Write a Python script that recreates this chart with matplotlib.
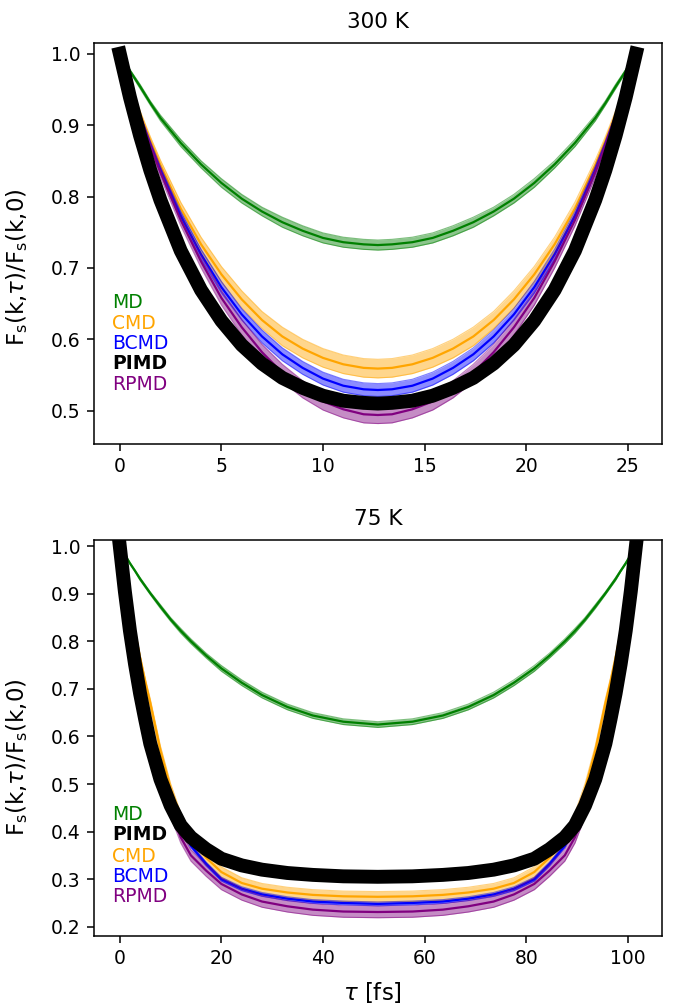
import matplotlib
matplotlib.use('Agg')
import matplotlib.pyplot as plt
import numpy as np

# ---- 300 K ----
tau_300 = [0, 0.5, 1, 1.5, 2, 3, 4, 5, 6, 7, 8, 9, 10, 11, 12, 12.7,
           13.4, 14.4, 15.4, 16.4, 17.4, 18.4, 19.4, 20.4, 21.4, 22.4, 23.4, 23.9, 24.4, 24.9, 25.4]

md_300 = [1.000, 0.976, 0.954, 0.931, 0.910, 0.875, 0.845, 0.819, 0.797, 0.779, 0.764, 0.752, 0.742, 0.736, 0.733, 0.732,
          0.733, 0.736, 0.742, 0.752, 0.764, 0.779, 0.797, 0.819, 0.845, 0.875, 0.910, 0.931, 0.954, 0.976, 1.000]
cmd_300 = [1.000, 0.956, 0.915, 0.878, 0.844, 0.783, 0.733, 0.691, 0.656, 0.627, 0.604, 0.587, 0.574, 0.565, 0.560, 0.559,
           0.560, 0.565, 0.574, 0.587, 0.604, 0.627, 0.656, 0.691, 0.733, 0.783, 0.844, 0.878, 0.915, 0.956, 1.000]
bcmd_300 = [1.000, 0.954, 0.912, 0.873, 0.837, 0.773, 0.719, 0.673, 0.635, 0.604, 0.579, 0.560, 0.545, 0.535, 0.530, 0.529,
            0.530, 0.535, 0.545, 0.560, 0.579, 0.604, 0.635, 0.673, 0.719, 0.773, 0.837, 0.873, 0.912, 0.954, 1.000]
pimd_300 = [1.000, 0.939, 0.885, 0.837, 0.795, 0.724, 0.669, 0.626, 0.592, 0.566, 0.546, 0.532, 0.521, 0.514, 0.511, 0.510,
            0.511, 0.514, 0.521, 0.532, 0.546, 0.566, 0.592, 0.626, 0.669, 0.724, 0.795, 0.837, 0.885, 0.939, 1.000]
rpmd_300 = [1.000, 0.954, 0.911, 0.871, 0.834, 0.767, 0.709, 0.658, 0.617, 0.582, 0.553, 0.530, 0.513, 0.502, 0.495, 0.494,
            0.495, 0.502, 0.513, 0.530, 0.553, 0.582, 0.617, 0.658, 0.709, 0.767, 0.834, 0.871, 0.911, 0.954, 1.000]

md_300_err = [0, 0.002, 0.003, 0.003, 0.004, 0.005, 0.005, 0.006, 0.006, 0.006, 0.007, 0.007, 0.007, 0.007, 0.007, 0.007,
              0.007, 0.007, 0.007, 0.007, 0.007, 0.006, 0.006, 0.006, 0.005, 0.005, 0.004, 0.003, 0.003, 0.002, 0]
cmd_300_err = [0, 0.003, 0.005, 0.006, 0.007, 0.009, 0.010, 0.011, 0.012, 0.012, 0.013, 0.013, 0.013, 0.013, 0.013, 0.013,
               0.013, 0.013, 0.013, 0.013, 0.013, 0.012, 0.012, 0.011, 0.010, 0.009, 0.007, 0.006, 0.005, 0.003, 0]
bcmd_300_err = [0, 0.002, 0.003, 0.004, 0.005, 0.006, 0.007, 0.008, 0.008, 0.009, 0.009, 0.009, 0.009, 0.009, 0.009, 0.009,
                0.009, 0.009, 0.009, 0.009, 0.009, 0.009, 0.008, 0.008, 0.007, 0.006, 0.005, 0.004, 0.003, 0.002, 0]
rpmd_300_err = [0, 0.003, 0.005, 0.006, 0.007, 0.008, 0.009, 0.010, 0.011, 0.011, 0.012, 0.012, 0.012, 0.012, 0.012, 0.012,
                0.012, 0.012, 0.012, 0.012, 0.012, 0.011, 0.011, 0.010, 0.009, 0.008, 0.007, 0.006, 0.005, 0.003, 0]

# ---- 75 K ----
tau_75 = [0, 1, 2, 3, 4, 5, 6, 8, 10, 12, 14, 17, 20, 24, 28, 33, 38, 44, 50.8,
          57.6, 63.6, 68.6, 73.6, 77.6, 81.6, 84.6, 87.6, 89.6, 91.6, 93.6, 95.6, 96.6, 97.6, 98.6, 99.6, 100.6, 101.6]

md_75 = [1.000, 0.982, 0.964, 0.948, 0.931, 0.916, 0.901, 0.873, 0.846, 0.822, 0.800, 0.770, 0.743, 0.713, 0.687, 0.662, 0.644, 0.631, 0.625,
         0.631, 0.644, 0.662, 0.687, 0.713, 0.743, 0.770, 0.800, 0.822, 0.846, 0.873, 0.901, 0.916, 0.931, 0.948, 0.964, 0.982, 1.000]
pimd_75 = [1.000, 0.905, 0.822, 0.752, 0.690, 0.636, 0.585, 0.510, 0.455, 0.413, 0.388, 0.363, 0.343, 0.329, 0.320, 0.313, 0.309, 0.306, 0.305,
           0.306, 0.309, 0.313, 0.320, 0.329, 0.343, 0.363, 0.388, 0.413, 0.455, 0.510, 0.585, 0.636, 0.690, 0.752, 0.822, 0.905, 1.000]
cmd_75 = [1.000, 0.940, 0.880, 0.820, 0.765, 0.715, 0.670, 0.570, 0.490, 0.428, 0.385, 0.345, 0.315, 0.292, 0.280, 0.272, 0.267, 0.264, 0.263,
          0.264, 0.267, 0.272, 0.280, 0.292, 0.315, 0.345, 0.385, 0.428, 0.490, 0.570, 0.670, 0.715, 0.765, 0.820, 0.880, 0.940, 1.000]
bcmd_75 = [1.000, 0.925, 0.855, 0.790, 0.730, 0.675, 0.625, 0.535, 0.463, 0.408, 0.370, 0.332, 0.300, 0.280, 0.268, 0.259, 0.253, 0.250, 0.248,
           0.250, 0.253, 0.259, 0.268, 0.280, 0.300, 0.332, 0.370, 0.408, 0.463, 0.535, 0.625, 0.675, 0.730, 0.790, 0.855, 0.925, 1.000]
rpmd_75 = [1.000, 0.915, 0.840, 0.770, 0.705, 0.650, 0.600, 0.515, 0.443, 0.388, 0.350, 0.318, 0.290, 0.268, 0.253, 0.243, 0.236, 0.232, 0.231,
           0.232, 0.236, 0.243, 0.253, 0.268, 0.290, 0.318, 0.350, 0.388, 0.443, 0.515, 0.600, 0.650, 0.705, 0.770, 0.840, 0.915, 1.000]

md_75_err = [0, 0.001, 0.002, 0.002, 0.003, 0.003, 0.003, 0.004, 0.004, 0.005, 0.005, 0.005, 0.006, 0.006, 0.006, 0.006, 0.006, 0.006, 0.006,
             0.006, 0.006, 0.006, 0.006, 0.006, 0.006, 0.005, 0.005, 0.005, 0.004, 0.004, 0.003, 0.003, 0.003, 0.002, 0.002, 0.001, 0]
cmd_75_err = [0, 0.003, 0.005, 0.006, 0.007, 0.008, 0.009, 0.010, 0.011, 0.011, 0.011, 0.011, 0.011, 0.011, 0.011, 0.011, 0.011, 0.011, 0.011,
              0.011, 0.011, 0.011, 0.011, 0.011, 0.011, 0.011, 0.011, 0.011, 0.011, 0.010, 0.009, 0.008, 0.007, 0.006, 0.005, 0.003, 0]
bcmd_75_err = [0, 0.001, 0.002, 0.002, 0.003, 0.003, 0.003, 0.004, 0.004, 0.004, 0.004, 0.004, 0.004, 0.004, 0.004, 0.004, 0.004, 0.004, 0.004,
               0.004, 0.004, 0.004, 0.004, 0.004, 0.004, 0.004, 0.004, 0.004, 0.004, 0.004, 0.003, 0.003, 0.003, 0.002, 0.002, 0.001, 0]
rpmd_75_err = [0, 0.003, 0.005, 0.006, 0.007, 0.008, 0.009, 0.010, 0.011, 0.012, 0.012, 0.012, 0.012, 0.012, 0.012, 0.012, 0.012, 0.012, 0.012,
               0.012, 0.012, 0.012, 0.012, 0.012, 0.012, 0.012, 0.012, 0.012, 0.011, 0.010, 0.009, 0.008, 0.007, 0.006, 0.005, 0.003, 0]

colors = {'MD': 'green', 'CMD': 'orange', 'BCMD': 'blue', 'PIMD': 'black', 'RPMD': 'purple'}

# the original looks like a 10pt figure blown up ~1.38x
plt.rcParams.update({
    'axes.linewidth': 1.1,
    'xtick.major.size': 4.8, 'ytick.major.size': 4.8,
    'xtick.major.width': 1.1, 'ytick.major.width': 1.1,
    'xtick.major.pad': 4.8, 'ytick.major.pad': 4.8,
    'axes.labelpad': 5.5,
})


def band(ax, x, y, e, c):
    x = np.array(x)
    y = np.array(y)
    e = np.array(e)
    ax.fill_between(x, y - e, y + e, color=c, alpha=0.45, lw=0)
    ax.plot(x, y - e, color=c, lw=0.8, alpha=0.5)
    ax.plot(x, y + e, color=c, lw=0.8, alpha=0.5)
    ax.plot(x, y, color=c, lw=1.6)


fig = plt.figure(figsize=(6.79, 10.07), dpi=100)
ax1 = fig.add_axes([0.1384, 0.5591, 0.8361, 0.3982])
ax2 = fig.add_axes([0.1384, 0.0708, 0.8361, 0.3930])

band(ax1, tau_300, md_300, md_300_err, colors['MD'])
band(ax1, tau_300, cmd_300, cmd_300_err, colors['CMD'])
band(ax1, tau_300, bcmd_300, bcmd_300_err, colors['BCMD'])
band(ax1, tau_300, rpmd_300, rpmd_300_err, colors['RPMD'])
ax1.plot(tau_300, pimd_300, color='black', lw=10)

band(ax2, tau_75, md_75, md_75_err, colors['MD'])
band(ax2, tau_75, cmd_75, cmd_75_err, colors['CMD'])
band(ax2, tau_75, bcmd_75, bcmd_75_err, colors['BCMD'])
band(ax2, tau_75, rpmd_75, rpmd_75_err, colors['RPMD'])
ax2.plot(tau_75, pimd_75, color='black', lw=10)

ax1.set_xlim(-1.27, 26.67)
ax1.set_ylim(0.4534, 1.015)
ax2.set_xlim(-5.08, 106.68)
ax2.set_ylim(0.1812, 1.013)

ax1.set_yticks([0.5, 0.6, 0.7, 0.8, 0.9, 1.0])
ax2.set_yticks([0.2, 0.3, 0.4, 0.5, 0.6, 0.7, 0.8, 0.9, 1.0])

ylab = r'F$_\mathrm{s}$(k,$\tau$)/F$_\mathrm{s}$(k,0)'
for ax, title in [(ax1, '300 K'), (ax2, '75 K')]:
    ax.set_title(title, fontsize=15.5, pad=10.5)
    ax.set_ylabel(ylab, fontsize=16.5)
    ax.tick_params(labelsize=13.5)
ax1.yaxis.set_label_coords(-0.112, 0.442)
ax2.yaxis.set_label_coords(-0.112, 0.452)
ax2.set_xlabel(r'$\tau$ [fs]', fontsize=16.5)
ax2.xaxis.set_label_coords(0.49, -0.112)

# colored text legends
order1 = [('MD', 0.353), ('CMD', 0.301), ('BCMD', 0.250), ('PIMD', 0.201), ('RPMD', 0.149)]
order2 = [('MD', 0.306), ('PIMD', 0.255), ('CMD', 0.201), ('BCMD', 0.149), ('RPMD', 0.098)]
for ax, order in [(ax1, order1), (ax2, order2)]:
    for name, yy in order:
        ax.text(0.032, yy, name, color=colors[name], fontsize=13.5, transform=ax.transAxes,
                va='center', ha='left', fontweight='bold' if name == 'PIMD' else 'normal')

fig.savefig('out.png', dpi=100)
